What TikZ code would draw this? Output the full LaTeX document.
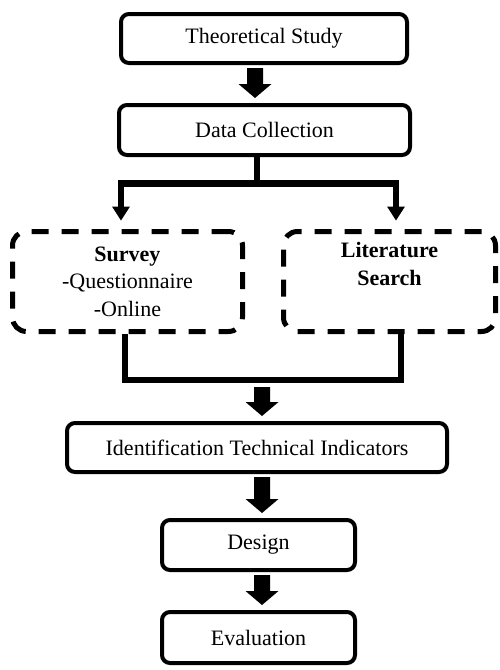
\documentclass[tikz,border=0pt]{standalone}
\usepackage{fontspec}
\setmainfont{Liberation Serif}
\usetikzlibrary{arrows.meta,calc}

% Block arrow pointing down from #1 to #2 (shaft position taken from #1)
\newcommand\fatarrow[2]{%
  \fill[black] let \p1=(#1), \p2=(#2) in
    (\x1-8pt,\y1-3pt) -- (\x1+8pt,\y1-3pt) -- (\x1+8pt,\y2+19pt)
    -- (\x1+16.5pt,\y2+19pt) -- (\x1,\y2+5pt) -- (\x1-16.5pt,\y2+19pt)
    -- (\x1-8pt,\y2+19pt) -- cycle;}

\begin{document}
\begin{tikzpicture}[x=1pt,y=-1pt,
  font=\fontsize{22}{27.5}\selectfont,
  stage/.style={draw, line width=4pt, rounded corners=8pt, inner sep=0pt,
    align=center},
  source/.style={draw, line width=5pt, dash pattern=on 17pt off 13pt,
    rounded corners=14pt, inner sep=0pt, align=center,
    minimum width=#1, minimum height=100pt},
  conn/.style={line width=6.5pt},
  tip/.style={-{Triangle[width=18pt,length=14pt,line width=0pt]}}]

\useasboundingbox (0,0) rectangle (499,670);

% process stages
\node[stage, minimum width=286pt, minimum height=49pt] (theo) at (264,38.5) {Theoretical Study};
\node[stage, minimum width=291pt, minimum height=50pt] (dc) at (264.5,130) {Data Collection};
\node[source=230pt] (sv) at (127.5,281.5) {\textbf{Survey}\\-Questionnaire\\-Online};
\node[source=212pt] (ls) at (389.5,281.5) {\textbf{Literature}\\\textbf{Search}\\\strut};
\node[stage, minimum width=380pt, minimum height=49pt] (ident) at (257,447.5) {Identification Technical Indicators};
\node[stage, minimum width=193pt, minimum height=50pt] (design) at (258.5,545) {Design};
\node[stage, minimum width=193pt, minimum height=51pt] (eval) at (258.5,637.5) {Evaluation};

% split after data collection
\coordinate (split) at (257,183.5);
\draw[conn] (dc.south -| split) -- (split);
\draw[conn, tip, shorten >=8.5pt] (split) -| ([xshift=-6.5pt]sv.north);
\draw[conn, tip, shorten >=8.5pt] (split) -| ([xshift=6.5pt]ls.north);

% merge of the two sources
\coordinate (merge) at (262,380);
\draw[conn] ([xshift=-2.5pt]sv.south) |- (merge) -| ([xshift=11.5pt]ls.south);

% block arrows between stages
\fatarrow{[xshift=-9pt]theo.south}{dc.north}
\fatarrow{[yshift=-4pt]merge}{ident.north}
\fatarrow{[xshift=5pt]ident.south}{design.north}
\fatarrow{[xshift=3.5pt]design.south}{eval.north}
\end{tikzpicture}
\end{document}
